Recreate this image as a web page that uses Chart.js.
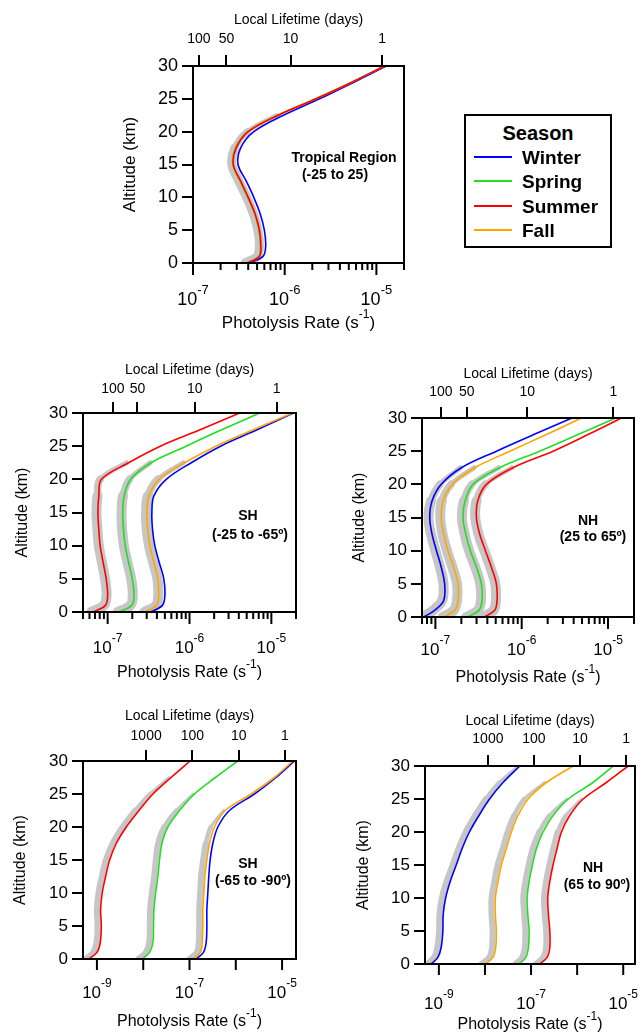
<!DOCTYPE html>
<html><head><meta charset="utf-8">
<script src="https://cdn.jsdelivr.net/npm/chart.js@4/dist/chart.umd.min.js"></script>
<style>
html,body{margin:0;padding:0;background:#fff;}
body{width:641px;height:1035px;position:relative;overflow:hidden;font-family:"Liberation Sans",Arial,sans-serif;color:#000;}
canvas{position:absolute;}
.note{position:absolute;font-weight:bold;font-size:14px;transform:translate(-50%,-50%);white-space:nowrap;line-height:1;}
#legend{position:absolute;left:464px;top:114px;width:144px;height:130px;border:2px solid #000;background:#fff;}
#legend .ttl{position:absolute;left:0;width:100%;top:17px;transform:translateY(-50%);text-align:center;font-weight:bold;font-size:20px;line-height:1;}
#legend .it{position:absolute;left:56px;font-weight:bold;font-size:19px;line-height:1;transform:translateY(-50%);}
#legend .sw{position:absolute;left:8px;width:38px;height:2px;}
</style></head><body>
<script>
// ---------------- data ----------------
const altitude = [0, 1, 2.5, 5, 7.5, 10, 12.5, 15, 17.5, 20, 22.5, 25, 27.5, 30];
const seasons = ['Winter', 'Spring', 'Summer', 'Fall'];
const seasonColors = ['#0000ff', '#22dd22', '#ff0000', '#ffa500'];
const greyColor = '#c6c6c6';

// Tropical region (-25 to 25)
const tropWinter = [4.1e-7, 5.8e-7, 6.2e-7, 6.0e-7, 5.4e-7, 4.6e-7, 3.8e-7, 3.1e-7, 3.3e-7, 4.6e-7, 9.7e-7, 2.4e-6, 5.6e-6, 1.28e-5];
const tropSpring = [3.8e-7, 5.2e-7, 5.45e-7, 5.25e-7, 4.7e-7, 3.95e-7, 3.25e-7, 2.72e-7, 2.9e-7, 3.95e-7, 8.4e-7, 2.18e-6, 5.3e-6, 1.22e-5];
const tropSummer = [3.9e-7, 5.3e-7, 5.5e-7, 5.3e-7, 4.75e-7, 4.0e-7, 3.3e-7, 2.75e-7, 2.95e-7, 4.0e-7, 8.5e-7, 2.2e-6, 5.35e-6, 1.23e-5];
const tropFall   = [3.85e-7, 5.25e-7, 5.5e-7, 5.3e-7, 4.72e-7, 3.98e-7, 3.28e-7, 2.74e-7, 2.93e-7, 3.98e-7, 8.45e-7, 2.19e-6, 5.32e-6, 1.225e-5];
const tropGrey   = [3.7e-7, 5.0e-7, 5.3e-7, 5.1e-7, 4.55e-7, 3.85e-7, 3.15e-7, 2.65e-7, 2.85e-7, 3.9e-7, 8.2e-7];

// SH (-25 to -65)
const shMidWinter = [3.34e-7, 4.67e-7, 5.0e-7, 4.85e-7, 4.26e-7, 3.77e-7, 3.53e-7, 3.47e-7, 3.67e-7, 5.2e-7, 1.05e-6, 2.4e-6, 6.8e-6, 1.86e-5];
const shMidSpring = [1.38e-7, 1.97e-7, 2.1e-7, 2.0e-7, 1.8e-7, 1.64e-7, 1.56e-7, 1.53e-7, 1.59e-7, 1.91e-7, 3.4e-7, 9.1e-7, 2.5e-6, 7.2e-6];
const shMidSummer = [6.65e-8, 9.4e-8, 1.0e-7, 9.6e-8, 8.8e-8, 8.1e-8, 7.8e-8, 7.6e-8, 7.8e-8, 8.4e-8, 1.8e-7, 4.4e-7, 1.37e-6, 4.1e-6];
const shMidFall   = [2.86e-7, 3.95e-7, 4.2e-7, 4.1e-7, 3.67e-7, 3.28e-7, 3.08e-7, 3.02e-7, 3.19e-7, 4.26e-7, 8.7e-7, 2.1e-6, 6.1e-6, 1.81e-5];
const shMidGreySummer = [6.3e-8, 9.0e-8, 9.7e-8, 9.3e-8, 8.5e-8, 7.8e-8, 7.5e-8, 7.3e-8, 7.5e-8, 8.1e-8, 1.7e-7];
const shMidGreySpring = [1.33e-7, 1.9e-7, 2.03e-7, 1.94e-7, 1.74e-7, 1.58e-7, 1.5e-7, 1.48e-7, 1.54e-7, 1.85e-7, 3.3e-7];
const shMidGreyFall   = [2.8e-7, 3.9e-7, 4.15e-7, 4.05e-7, 3.6e-7, 3.2e-7, 3.0e-7, 2.95e-7, 3.1e-7, 4.1e-7, 8.4e-7];

// NH (25 to 65)
const nhMidWinter = [7.3e-8, 9.8e-8, 1.25e-7, 1.28e-7, 1.17e-7, 1.03e-7, 9.15e-8, 8.6e-8, 9.15e-8, 1.17e-7, 2.0e-7, 5.1e-7, 1.38e-6, 3.83e-6];
const nhMidSpring = [2.35e-7, 3.2e-7, 3.47e-7, 3.41e-7, 2.99e-7, 2.54e-7, 2.25e-7, 2.09e-7, 2.21e-7, 2.73e-7, 5.55e-7, 1.61e-6, 4.5e-6, 1.23e-5];
const nhMidSummer = [3.66e-7, 4.87e-7, 5.18e-7, 5.09e-7, 4.46e-7, 3.8e-7, 3.26e-7, 2.99e-7, 3.09e-7, 3.9e-7, 7.9e-7, 2.31e-6, 5.86e-6, 1.43e-5];
const nhMidFall   = [1.25e-7, 1.68e-7, 1.83e-7, 1.83e-7, 1.63e-7, 1.4e-7, 1.25e-7, 1.17e-7, 1.23e-7, 1.57e-7, 2.86e-7, 7.3e-7, 1.93e-6, 4.9e-6];
const nhMidGreyWinter = [7.0e-8, 9.4e-8, 1.2e-7, 1.24e-7, 1.13e-7, 1.0e-7, 8.9e-8, 8.3e-8, 8.9e-8, 1.13e-7, 1.95e-7];
const nhMidGreySpring = [2.28e-7, 3.1e-7, 3.37e-7, 3.31e-7, 2.9e-7, 2.46e-7, 2.18e-7, 2.03e-7, 2.14e-7, 2.65e-7, 5.4e-7];
const nhMidGreySummer = [3.55e-7, 4.72e-7, 5.02e-7, 4.94e-7, 4.33e-7, 3.69e-7, 3.16e-7, 2.9e-7, 3.0e-7, 3.78e-7, 7.7e-7];
const nhMidGreyFall   = [1.21e-7, 1.63e-7, 1.78e-7, 1.78e-7, 1.58e-7, 1.36e-7, 1.21e-7, 1.14e-7, 1.19e-7, 1.52e-7, 2.8e-7];

// SH (-65 to -90)
const shPolWinter = [1.39e-7, 2.0e-7, 2.29e-7, 2.37e-7, 2.37e-7, 2.49e-7, 2.61e-7, 2.79e-7, 3.19e-7, 4.1e-7, 7.3e-7, 2.53e-6, 7.4e-6, 1.85e-5];
const shPolSpring = [9.5e-9, 1.37e-8, 1.62e-8, 1.67e-8, 1.7e-8, 1.85e-8, 2.07e-8, 2.25e-8, 2.53e-8, 3.4e-8, 6.1e-8, 1.28e-7, 3.64e-7, 1.1e-6];
const shPolSummer = [6.7e-10, 1.0e-9, 1.18e-9, 1.24e-9, 1.2e-9, 1.3e-9, 1.54e-9, 1.88e-9, 2.61e-9, 4.3e-9, 8.1e-9, 1.62e-8, 4.0e-8, 1.03e-7];
const shPolFall   = [1.18e-7, 1.73e-7, 1.88e-7, 1.94e-7, 1.94e-7, 2.04e-7, 2.14e-7, 2.37e-7, 2.7e-7, 3.47e-7, 5.9e-7, 2.14e-6, 6.8e-6, 1.7e-5];
const shPolGreySummer = [5.6e-10, 8.3e-10, 9.8e-10, 1.03e-9, 1.0e-9, 1.08e-9, 1.28e-9, 1.56e-9, 2.17e-9, 3.6e-9, 6.8e-9, 1.4e-8, 3.7e-8];
const shPolGreySpring = [7.9e-9, 1.14e-8, 1.35e-8, 1.39e-8, 1.41e-8, 1.54e-8, 1.72e-8, 1.87e-8, 2.1e-8, 2.85e-8, 5.2e-8, 1.2e-7];
const shPolGreyFall   = [1.0e-7, 1.45e-7, 1.58e-7, 1.62e-7, 1.62e-7, 1.7e-7, 1.78e-7, 1.97e-7, 2.25e-7, 2.9e-7, 5.5e-7];

// NH (65 to 90)
const nhPolWinter = [6.8e-10, 9.5e-10, 1.12e-9, 1.22e-9, 1.24e-9, 1.4e-9, 1.76e-9, 2.38e-9, 3.2e-9, 4.6e-9, 7.4e-9, 1.26e-8, 2.46e-8, 5.7e-8];
const nhPolSpring = [5.5e-8, 7.7e-8, 8.75e-8, 9.05e-8, 8.5e-8, 8.2e-8, 9.05e-8, 1.07e-7, 1.31e-7, 1.82e-7, 3.0e-7, 6.4e-7, 2.2e-6, 6.1e-6];
const nhPolSummer = [1.54e-7, 2.23e-7, 2.55e-7, 2.55e-7, 2.38e-7, 2.3e-7, 2.55e-7, 3.0e-7, 3.67e-7, 4.56e-7, 6.9e-7, 1.35e-6, 4.3e-6, 1.28e-5];
const nhPolFall   = [1.03e-8, 1.49e-8, 1.71e-8, 1.76e-8, 1.68e-8, 1.68e-8, 1.92e-8, 2.27e-8, 2.91e-8, 3.74e-8, 5.2e-8, 8.6e-8, 2.15e-7, 8.2e-7];
const nhPolGreyWinter = [5.6e-10, 7.9e-10, 9.3e-10, 1.01e-9, 1.03e-9, 1.16e-9, 1.46e-9, 1.98e-9, 2.66e-9, 3.8e-9, 6.1e-9, 1.05e-8, 2.05e-8, 5.4e-8];
const nhPolGreySpring = [4.6e-8, 6.4e-8, 7.3e-8, 7.5e-8, 7.1e-8, 6.8e-8, 7.5e-8, 8.9e-8, 1.09e-7, 1.51e-7, 2.5e-7, 6.0e-7];
const nhPolGreySummer = [1.28e-7, 1.85e-7, 2.12e-7, 2.12e-7, 1.98e-7, 1.91e-7, 2.12e-7, 2.49e-7, 3.05e-7, 3.8e-7, 5.7e-7, 1.25e-6];
const nhPolGreyFall   = [8.5e-9, 1.24e-8, 1.42e-8, 1.46e-8, 1.39e-8, 1.39e-8, 1.6e-8, 1.88e-8, 2.42e-8, 3.1e-8, 4.3e-8, 7.1e-8, 2.0e-7];

// tick labels
const lifetimeTicksMid = [100, 50, 10, 1];
const lifetimeTicksPolar = [1000, 100, 10, 1];
const rateLabelExpMid = [-7, -6, -5];
const rateLabelExpPolar = [-9, -7, -5];
const altitudeTitle = 'Altitude (km)';
const lifetimeTitle = 'Local Lifetime (days)';
const rateTitle = 'Photolysis Rate (s';
const rateTitleSup = '-1';

// ---------------- rendering ----------------
const FAMILY = "'Liberation Sans', Arial, Helvetica, sans-serif";
Chart.defaults.font.family = FAMILY;
Chart.defaults.color = '#000';

function isDecade(v) { const l = Math.log10(v); return Math.abs(l - Math.round(l)) < 1e-6; }

const rateAxisPlugin = {
  id: 'rateAxis',
  afterDraw(chart, args, o) {
    const ctx = chart.ctx, a = chart.chartArea, xs = chart.scales.x;
    ctx.save();
    ctx.strokeStyle = '#000';
    ctx.lineWidth = 2;
    ctx.strokeRect(a.left, a.top, a.right - a.left, a.bottom - a.top);
    xs.ticks.forEach(t => {
      const px = xs.getPixelForValue(t.value);
      const len = isDecade(t.value) ? o.majorLen : o.minorLen;
      ctx.beginPath(); ctx.moveTo(px, a.bottom); ctx.lineTo(px, a.bottom + len); ctx.stroke();
    });
    ctx.fillStyle = '#000';
    ctx.textBaseline = 'middle';
    ctx.textAlign = 'left';
    const mainFont = o.labelSize + 'px ' + FAMILY, supFont = o.supSize + 'px ' + FAMILY;
    o.labels.forEach(e => {
      const px = xs.getPixelForValue(Math.pow(10, e));
      const sup = String(e);
      ctx.font = mainFont; const w1 = ctx.measureText('10').width;
      ctx.font = supFont; const w2 = ctx.measureText(sup).width;
      const x0 = px - (w1 + w2) / 2;
      const y = a.bottom + o.labelDy;
      ctx.font = mainFont; ctx.fillText('10', x0, y);
      ctx.font = supFont; ctx.fillText(sup, x0 + w1, y - o.labelSize * 0.52);
    });
    const tf = o.titleSize + 'px ' + FAMILY, tsf = Math.round(o.titleSize * 0.72) + 'px ' + FAMILY;
    ctx.font = tf; const t1 = ctx.measureText(rateTitle).width; const t3 = ctx.measureText(')').width;
    ctx.font = tsf; const t2 = ctx.measureText(rateTitleSup).width;
    const cx = (a.left + a.right) / 2, ty = a.bottom + o.titleDy;
    let x = cx - (t1 + t2 + t3) / 2;
    ctx.font = tf; ctx.fillText(rateTitle, x, ty); x += t1;
    ctx.font = tsf; ctx.fillText(rateTitleSup, x, ty - o.titleSize * 0.5); x += t2;
    ctx.font = tf; ctx.fillText(')', x, ty);
    ctx.restore();
  }
};

function series(vals, color, width, order) {
  return {
    data: vals.map((v, i) => ({ x: v, y: altitude[i] })),
    borderColor: color, borderWidth: width, pointRadius: 0, pointHoverRadius: 0,
    tension: 0.35, fill: false, order: order, borderCapStyle: 'butt', borderJoinStyle: 'round'
  };
}
function greySeries(vals, width) {
  const ds = series(vals, greyColor, width, 10);
  const n = vals.length - 1;
  ds.borderCapStyle = 'round';
  ds.segment = {
    borderWidth: c => {
      const rem = n - c.p0DataIndex;
      return rem >= 3 ? width : width * (0.25 + 0.25 * rem);
    }
  };
  return ds;
}

const panels = [
  { box: [120, 12, 300, 321], yW: 73, topH: 54, botH: 70, padR: 16, min: 1e-7, max: 2e-5,
    yFont: 18, yTitle: 17, topPad: 7, labelDy: 37, labelSize: 18, supSize: 13, titleSize: 17, titleDy: 60,
    lifetimes: lifetimeTicksMid, labels: rateLabelExpMid, minor: true, greyW: 9,
    lines: [[tropWinter, 0, 3], [tropSpring, 1, 2], [tropFall, 3, 1], [tropSummer, 2, 0]],
    greys: [tropGrey],
    notes: [['Tropical Region', 344, 157], ['(-25 to 25)', 335, 174]] },
  { box: [13, 362, 299, 321], yW: 70, topH: 51, botH: 71, padR: 16, min: 5e-8, max: 2e-5,
    yFont: 17, yTitle: 16, topPad: 4, labelDy: 36, labelSize: 17, supSize: 12, titleSize: 16, titleDy: 61,
    lifetimes: lifetimeTicksMid, labels: rateLabelExpMid, minor: true, greyW: 10,
    lines: [[shMidWinter, 0, 3], [shMidSpring, 1, 2], [shMidFall, 3, 1], [shMidSummer, 2, 0]],
    greys: [shMidGreySummer, shMidGreySpring, shMidGreyFall],
    notes: [['SH', 248, 515], ['(-25 to -65º)', 250, 534]] },
  { box: [350, 366, 291, 322], yW: 72, topH: 52, botH: 71, padR: 7, min: 7e-8, max: 2e-5,
    yFont: 17, yTitle: 16, topPad: 6, labelDy: 33, labelSize: 17, supSize: 12, titleSize: 16, titleDy: 61,
    lifetimes: lifetimeTicksMid, labels: rateLabelExpMid, minor: true, greyW: 10,
    lines: [[nhMidWinter, 0, 3], [nhMidSpring, 1, 2], [nhMidFall, 3, 1], [nhMidSummer, 2, 0]],
    greys: [nhMidGreyWinter, nhMidGreyFall, nhMidGreySpring, nhMidGreySummer],
    notes: [['NH', 588, 520], ['(25 to 65º)', 593, 536]] },
  { box: [11, 708, 301, 323], yW: 72, topH: 53, botH: 72, padR: 16, min: 5e-10, max: 2e-5,
    yFont: 17, yTitle: 16, topPad: 5, labelDy: 34, labelSize: 17, supSize: 12, titleSize: 16, titleDy: 63,
    lifetimes: lifetimeTicksPolar, labels: rateLabelExpPolar, minor: false, greyW: 6,
    lines: [[shPolWinter, 0, 3], [shPolSpring, 1, 2], [shPolFall, 3, 1], [shPolSummer, 2, 0]],
    greys: [shPolGreySummer, shPolGreySpring, shPolGreyFall],
    notes: [['SH', 248, 863], ['(-65 to -90º)', 253, 880]] },
  { box: [354, 713, 287, 322], yW: 71, topH: 53, botH: 71, padR: 6, min: 5e-10, max: 1.8e-5,
    yFont: 17, yTitle: 16, topPad: 7, labelDy: 40, labelSize: 17, supSize: 12, titleSize: 16, titleDy: 61,
    lifetimes: lifetimeTicksPolar, labels: rateLabelExpPolar, minor: false, greyW: 6,
    lines: [[nhPolWinter, 0, 3], [nhPolSpring, 1, 2], [nhPolFall, 3, 1], [nhPolSummer, 2, 0]],
    greys: [nhPolGreyWinter, nhPolGreyFall, nhPolGreySpring, nhPolGreySummer],
    notes: [['NH', 593, 867], ['(65 to 90º)', 597, 884]] }
];

panels.forEach(p => {
  const cv = document.createElement('canvas');
  cv.width = p.box[2]; cv.height = p.box[3];
  cv.style.left = p.box[0] + 'px'; cv.style.top = p.box[1] + 'px';
  cv.style.width = p.box[2] + 'px'; cv.style.height = p.box[3] + 'px';
  document.body.appendChild(cv);

  const datasets = [];
  p.lines.forEach(([vals, si, ord]) => datasets.push(series(vals, seasonColors[si], 1.6, ord)));
  p.greys.forEach(vals => datasets.push(greySeries(vals, p.greyW)));

  new Chart(cv, {
    type: 'line',
    data: { datasets },
    plugins: [rateAxisPlugin],
    options: {
      responsive: false, animation: false, devicePixelRatio: 1,
      layout: { padding: { left: 0, top: 0, right: p.padR, bottom: 0 } },
      plugins: {
        legend: { display: false }, tooltip: { enabled: false },
        rateAxis: { majorLen: p.minor ? 12 : 11, minorLen: 7, labels: p.labels, labelDy: p.labelDy,
          labelSize: p.labelSize, supSize: p.supSize, titleSize: p.titleSize, titleDy: p.titleDy }
      },
      scales: {
        x: {
          type: 'logarithmic', position: 'bottom', min: p.min, max: p.max,
          afterBuildTicks: s => {
            const t = [];
            const lo = Math.floor(Math.log10(s.min)), hi = Math.ceil(Math.log10(s.max));
            for (let e = lo; e <= hi; e++) {
              for (let k = 1; k <= (p.minor ? 9 : 1); k++) {
                const v = k * Math.pow(10, e);
                if (v >= s.min * 0.999 && v <= s.max * 1.001) t.push({ value: v });
              }
            }
            s.ticks = t;
          },
          ticks: { display: false }, grid: { display: false }, border: { display: false },
          title: { display: false },
          afterFit: s => { s.height = p.botH; s.paddingLeft = 0; s.paddingRight = 0; s.paddingTop = 0; s.paddingBottom = 0; }
        },
        x2: {
          type: 'logarithmic', position: 'top', min: p.min, max: p.max,
          afterBuildTicks: s => { s.ticks = p.lifetimes.map(d => ({ value: 1 / (d * 86400) })); },
          ticks: { callback: (v, i) => String(p.lifetimes[i]), autoSkip: false, maxRotation: 0,
                   font: { size: 14 }, color: '#000', padding: p.topPad },
          grid: { drawOnChartArea: false, drawTicks: true, tickLength: 11, color: '#000', lineWidth: 2 },
          border: { display: false },
          title: { display: true, text: lifetimeTitle, font: { size: 14 }, color: '#000', padding: 0 },
          afterFit: s => { s.height = p.topH; s.paddingLeft = 0; s.paddingRight = 0; s.paddingTop = 0; s.paddingBottom = 0; }
        },
        y: {
          type: 'linear', position: 'left', min: 0, max: 30,
          ticks: { stepSize: 5, font: { size: p.yFont }, color: '#000', padding: 4 },
          grid: { drawOnChartArea: false, drawTicks: true, tickLength: 11, color: '#000', lineWidth: 2 },
          border: { display: true, color: '#000', width: 2 },
          title: { display: true, text: altitudeTitle, font: { size: p.yTitle }, color: '#000', padding: 0 },
          afterFit: s => { s.width = p.yW; s.paddingTop = 0; s.paddingBottom = 0; s.paddingLeft = 0; s.paddingRight = 0; }
        }
      }
    }
  });

  p.notes.forEach(([txt, x, y]) => {
    const d = document.createElement('div');
    d.className = 'note'; d.textContent = txt;
    d.style.left = x + 'px'; d.style.top = y + 'px';
    document.body.appendChild(d);
  });
});

// legend
const lg = document.createElement('div');
lg.id = 'legend';
const ttl = document.createElement('div'); ttl.className = 'ttl'; ttl.textContent = 'Season'; lg.appendChild(ttl);
const itemY = [41, 65, 90, 114];
seasons.forEach((s, i) => {
  const sw = document.createElement('div'); sw.className = 'sw';
  sw.style.background = seasonColors[i]; sw.style.top = (itemY[i] - 1) + 'px'; lg.appendChild(sw);
  const it = document.createElement('div'); it.className = 'it'; it.textContent = s;
  it.style.top = itemY[i] + 'px'; lg.appendChild(it);
});
document.body.appendChild(lg);
</script>
</body></html>
